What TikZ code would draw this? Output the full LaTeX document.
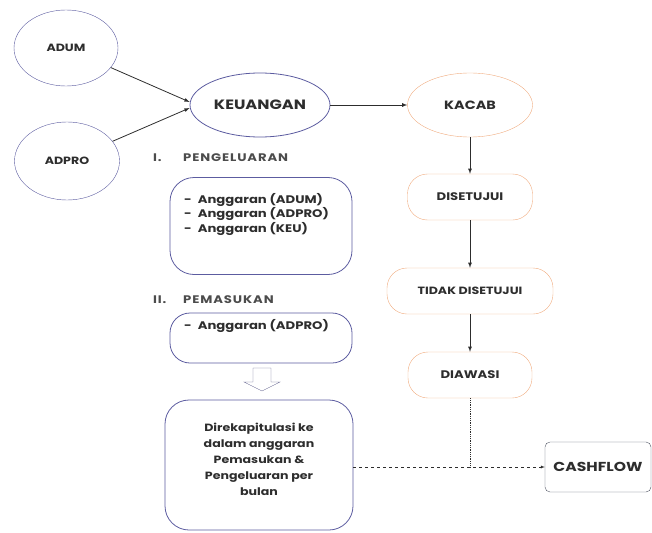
\documentclass[tikz,border=0pt]{standalone}
\usepackage{fontspec}
\setmainfont{Poppins}[FakeStretch=1.2]
\usetikzlibrary{shapes.geometric}
\definecolor{keuline}{RGB}{92,92,160}
\definecolor{kacline}{RGB}{240,172,128}
\definecolor{cashline}{RGB}{80,86,100}
\definecolor{txt}{RGB}{45,45,45}
\newcommand{\fs}[1]{\fontsize{#1}{#1}\selectfont}
\tikzset{unit/.style={
  ellipse,
  draw=keuline,
  font=\bfseries\fs{10.5},text=txt}}
\tikzset{kacunit/.style={unit,draw=kacline}}
\tikzset{stage/.style={
  rectangle,rounded corners=20pt,
  draw=kacline,
  text=txt,
  minimum height=46pt}}
\tikzset{budget/.style={
  rectangle,rounded corners=24pt,
  draw=keuline,thick}}
\tikzset{budgettext/.style={
  font=\bfseries\fontsize{11}{11.5}\selectfont,text=txt,
  align=left,anchor=base west,inner sep=0pt}}
\tikzset{section/.style={
  font=\bfseries\fs{11}\addfontfeature{LetterSpace=8},text=txt!85,
  anchor=base west,inner sep=0pt}}
\tikzset{>=latex}

\begin{document}
\begin{tikzpicture}[x=1pt,y=-1pt]
  \useasboundingbox (0,0) rectangle (652,532);
  % sumber anggaran
  \node[unit,minimum width=104pt,minimum height=76pt] (adum) at (66,48) {ADUM};
  \node[unit,minimum width=105pt,minimum height=78pt] (adpro) at (67,161) {ADPRO};
  \node[unit,thick,font=\bfseries\fs{13.5},minimum width=140pt,minimum height=64pt] (keu) at (260,105) {KEUANGAN};
  \node[kacunit,font=\bfseries\fs{12},minimum width=125pt,minimum height=64pt] (kacab) at (470,105) {KACAB};
  % tahapan persetujuan
  \foreach \n/\p/\w/\s/\l in {
      setuju/{(470,197)}/125/11/{DISETUJUI},
      tidak/{(470,291)}/166/10.5/{TIDAK DISETUJUI},
      awasi/{(470,375)}/124/11/{DIAWASI} }
    \node[stage,font=\bfseries\fs{\s},minimum width=\w pt] (\n) at \p {\l};
  \node[rectangle,rounded corners=5pt,draw=cashline,
    font=\bfseries\fs{13},text=txt,
    minimum width=106pt,minimum height=50pt] (cash) at (598,467) {CASHFLOW};
  % pengeluaran & pemasukan
  \node[section] (lblkeluar) at (153,161) {\makebox[30pt][l]{I.}PENGELUARAN};
  \node[budget,minimum width=182pt,minimum height=97pt] (keluar) at (261,226) {};
  \node[budgettext] (keluartext) at (184,232) {-\hspace{6pt}Anggaran (ADUM)\\
    -\hspace{6pt}Anggaran (ADPRO)\\
    -\hspace{6pt}Anggaran (KEU)};
  \node[section] (lblmasuk) at (153,303) {\makebox[30pt][l]{II.}PEMASUKAN};
  \node[budget,rounded corners=20pt,minimum width=182pt,minimum height=50pt] (masuk) at (261,338) {};
  \node[budgettext] (masuktext) at (184,329) {-\hspace{6pt}Anggaran (ADPRO)};
  \node[budget,minimum width=188pt,minimum height=130pt,
    font=\bfseries\fontsize{10.5}{16}\selectfont,text=txt,align=center,
    text depth=12pt] (rekap) at (259,465)
    {Direkapitulasi ke\\dalam anggaran\\Pemasukan \&\\Pengeluaran per\\bulan};
  % panah terbuka
  \draw[keuline!60!gray,line join=miter] (253,368) -- (271,368) -- (271,382) -- (280,382)
    -- (262,391) -- (244,382) -- (253,382) -- cycle;
  % alur
  \draw[->,thick,txt] (adum) -- ([yshift=3pt]keu.west);
  \draw[->,thick,txt] (adpro) -- ([yshift=-3pt]keu.west);
  \draw[->,thick,txt] (keu) -- (kacab);
  \foreach \m/\n in {kacab/setuju,setuju/tidak,tidak/awasi}
    \draw[->,thick,txt] (\m) -- (\n);
  \coordinate (temu) at (awasi.south |- cash.west);
  \draw[densely dotted,thick,txt] (awasi) -- (temu);
  \draw[->,dashed,txt] (rekap.east |- cash.west) -- (cash);
\end{tikzpicture}
\end{document}
